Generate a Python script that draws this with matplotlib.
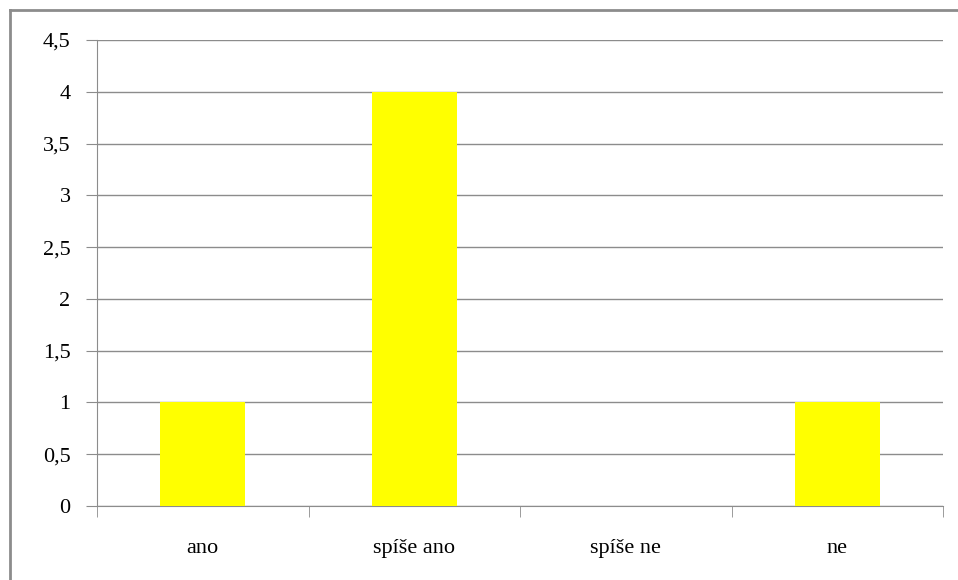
import matplotlib.pyplot as plt
from matplotlib.lines import Line2D
from matplotlib.ticker import FuncFormatter, MultipleLocator

# Data
categories = ['ano', 'spíše ano', 'spíše ne', 'ne']
counts = [1, 4, 0, 1]

plt.rcParams['font.family'] = ['Liberation Serif', 'DejaVu Serif']

fig = plt.figure(figsize=(9.58, 5.8), dpi=100)
ax = fig.add_axes([97 / 958, 74 / 580, 846 / 958, 466 / 580])

x = range(len(categories))
ax.bar(x, counts, width=0.4, color='#FFFF00', zorder=3)

ax.set_xlim(-0.5, len(categories) - 0.5)
ax.set_ylim(0, 4.5)
ax.yaxis.set_major_locator(MultipleLocator(0.5))
ax.yaxis.set_major_formatter(FuncFormatter(lambda v, p: f'{v:g}'.replace('.', ',')))
ax.grid(axis='y', color='#8c8c8c', linewidth=1, zorder=0)

ax.set_xticks(x)
ax.set_xticklabels(categories)
ax.set_xticks([i + 0.5 for i in range(-1, len(categories))], minor=True)
ax.tick_params(axis='x', which='major', length=0, pad=24, labelsize=16)
ax.tick_params(axis='x', which='minor', length=8, color='#8c8c8c', direction='out')
ax.tick_params(axis='y', length=8, color='#8c8c8c', pad=11, labelsize=16)

for side in ['top', 'right']:
    ax.spines[side].set_visible(False)
for side in ['left', 'bottom']:
    ax.spines[side].set_color('#8c8c8c')

# outer frame (top and left edges visible)
fig.add_artist(Line2D([10 / 958, 10 / 958], [0, 1 - 10 / 580], color='#8c8c8c', linewidth=2))
fig.add_artist(Line2D([10 / 958, 1], [1 - 10 / 580, 1 - 10 / 580], color='#8c8c8c', linewidth=2))

fig.savefig('out.png', dpi=100)
